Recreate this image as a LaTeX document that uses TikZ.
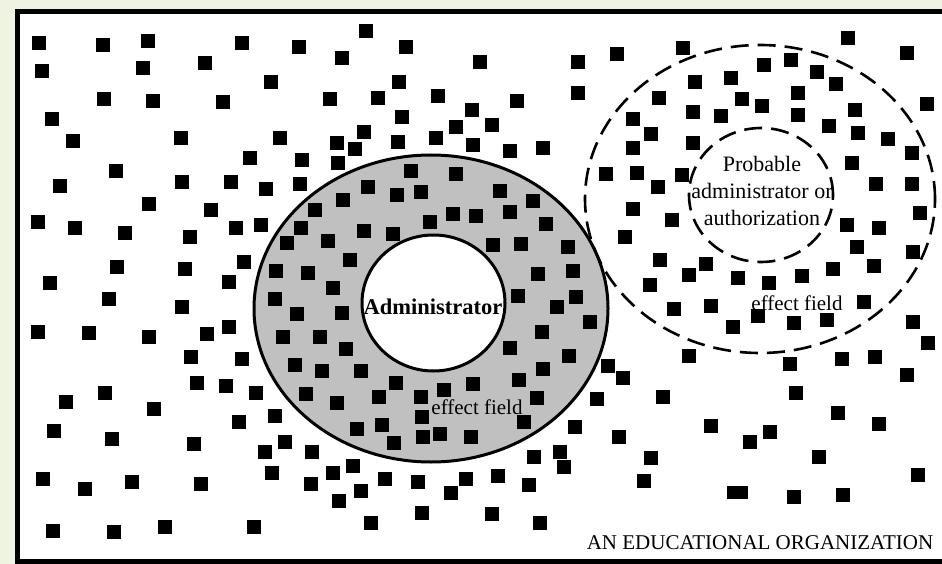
\documentclass[tikz,border=0pt]{standalone}
\usepackage{fontspec}
\setmainfont{Liberation Serif}
\definecolor{pagebg}{RGB}{238,243,226}
\definecolor{ringgray}{RGB}{192,192,192}
\begin{document}
\begin{tikzpicture}[x=1pt,y=-1pt,
  frameline/.style={line width=5pt},
  ringline/.style={line width=3pt},
  dashline/.style={line width=2.6pt, dash pattern=on 18pt off 9pt},
  lbl/.style={inner sep=0pt, align=center},
  member/.style={fill=black}]
\useasboundingbox (0,0) rectangle (942,564);
\fill[pagebg] (0,0) rectangle (942,564);
\begin{scope}
\clip (0,0) rectangle (942,564);
% organisation frame
\draw[frameline, fill=white] (17,12) rectangle (965,561);
% administrator's effect field (grey ring) and inner core
\draw[ringline, fill=ringgray] (431,308.5) ellipse [x radius=177pt, y radius=153.5pt];
\draw[ringline, fill=white] (433.5,303) ellipse [x radius=71.5pt, y radius=68pt];
% members of the organisation
\foreach \x/\y in {
 39/43,103/45,148/41,242/43,299/47,42/71,143/68,205/63,271/82,104/99,153/101,223/102,
 52/119,73/141,181/138,280/138,250/158,302/160,116/171,60/186,182/182,231/182,266/189,
 300/184,149/204,211/210,38/222,75/228,125/233,190/237,236/228,261/225,315/210,301/228,
 287/243,117/267,185/269,244/262,276/271,308/273,50/283,229/282,
 109/299,182/307,275/299,297/314,38/332,89/333,149/337,207/334,229/327,283/337,320/337,
 191/357,242/359,295/365,322/371,197/383,226/386,256/393,306/394,66/402,105/393,154/409,
 239/422,275/416,54/431,112/439,194/444,265/452,285/442,312/452,43/479,85/489,132/482,
 201/484,272/473,311/484,53/531,114/532,165/527,254/527,
 366/31,406/47,342/58,480/62,578/62,617/54,399/82,330/99,378/98,438/96,517/101,578/93,
 402/117,472/110,456/127,492/125,364/132,337/143,355/149,398/142,436/138,473/145,510/151,
 543/148,338/163,606/174,625/237,
 411/171,456/174,368/187,343/200,397/195,421/192,500/191,533/201,364/231,393/234,430/222,
 453/214,476/216,510/212,328/241,493/245,521/244,546/224,568/247,350/260,538/274,573/271,
 333/288,
 342/313,346/349,361/371,396/383,379/397,337/403,421/397,444/390,473/384,519/380,537/398,
 543/369,569/356,542/332,557/307,576/297,590/322,518/296,510/348,357/429,382/425,394/443,
 422/417,423/437,440/434,471/437,524/422,
 608/366,623/378,597/399,575/427,619/437,560/452,564/467,534/457,353/466,333/473,361/491,
 339/501,385/479,418/482,451/493,466/479,498/476,529/485,422/513,492/514,371/523,540/523,
 683/48,848/38,907/53,764/65,791/60,817/72,836/84,695/82,731/78,659/98,742/99,762/106,
 798/93,927/104,633/119,693/112,721/116,798/115,855/110,651/134,829/126,858/133,888/139,
 693/143,633/148,912/153,637/173,682/175,852/163,658/187,876/184,912/184,633/209,672/220,
 920/213,847/225,879/228,857/247,913/252,660/260,706/264,689/275,738/278,769/283,802/276,
 833/269,874/266,650/285,
 674/309,711/306,733/327,758/316,794/323,827/320,864/302,913/322,928/343,689/356,790/364,
 842/359,875/357,907/375,663/397,796/393,838/413,879/424,711/426,770/432,750/442,651/458,
 819/457,918/475,644/481,794/497,843/495}
  \fill[member] ({\x-7},{\y-7}) rectangle +(14,14);
\fill[member] (726.5,486) rectangle +(21,12.5);
% probable administrator and its effect field
\draw[dashline] (760,199) ellipse [x radius=175pt, y radius=154pt];
\draw[dashline] (761,195) ellipse [x radius=72pt, y radius=67pt];
\end{scope}
% labels
\node[lbl, font=\fontsize{22.5}{27}\selectfont\bfseries] (admin) at (433,307) {Administrator};
\node[lbl, font=\fontsize{21}{25}\selectfont] (field) at (477,407) {effect field};
\node[lbl, font=\fontsize{22}{27}\selectfont] (probable) at (762,191)
  {Probable\\administrator or\\authorization};
\node[lbl, font=\fontsize{21}{25}\selectfont] (probfield) at (797,303) {effect field};
\node[lbl, font=\fontsize{21}{25}\selectfont] (org) at (760,543) {AN EDUCATIONAL ORGANIZATION};
\end{tikzpicture}
\end{document}
